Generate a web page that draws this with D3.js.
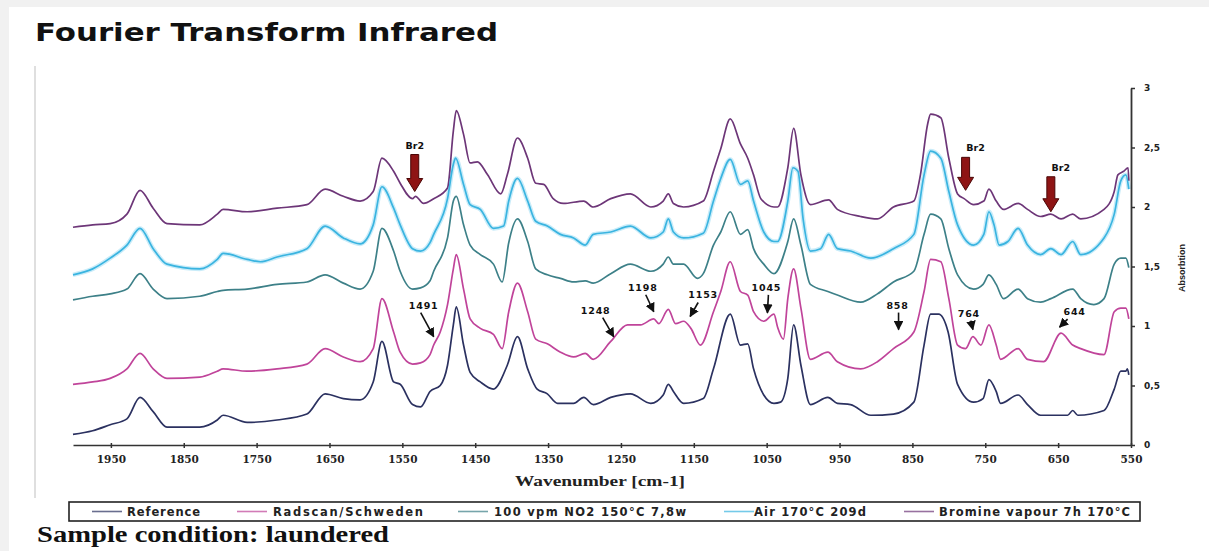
<!DOCTYPE html>
<html><head><meta charset="utf-8">
<script src="https://cdn.jsdelivr.net/npm/d3@7"></script>
<style>body{margin:0;background:#fff;overflow:hidden}</style>
</head><body>
<svg id="c" width="1209" height="551"></svg>
<script>
// ---------- data ----------
const wavenumberTicks = [1950,1850,1750,1650,1550,1450,1350,1250,1150,1050,950,850,750,650,550];
const absorbanceTicks = [0,0.5,1,1.5,2,2.5,3];
const seriesNames = ["Reference","Radscan/Schweden","100 vpm NO2 150°C 7,8w","Air 170°C 209d","Bromine vapour 7h 170°C"];

const reference = [[2002,0.09],[1975,0.12],[1951,0.17],[1928,0.22],[1910,0.40],[1892,0.28],[1873,0.15],[1828,0.15],[1804,0.21],[1796,0.25],[1763,0.19],[1722,0.21],[1681,0.26],[1656,0.43],[1631,0.39],[1608,0.38],[1590,0.53],[1578,0.87],[1562,0.53],[1553,0.51],[1536,0.34],[1525,0.32],[1512,0.45],[1498,0.50],[1488,0.67],[1480,1.01],[1476,1.16],[1466,0.84],[1457,0.61],[1443,0.53],[1425,0.47],[1406,0.67],[1392,0.91],[1378,0.64],[1365,0.47],[1351,0.43],[1337,0.35],[1315,0.35],[1301,0.40],[1288,0.34],[1264,0.40],[1237,0.43],[1209,0.35],[1192,0.42],[1185,0.51],[1178,0.45],[1164,0.35],[1137,0.39],[1123,0.64],[1100,1.10],[1086,0.84],[1076,0.85],[1068,0.64],[1054,0.42],[1040,0.35],[1031,0.36],[1021,0.56],[1013,1.01],[1003,0.67],[990,0.34],[966,0.40],[953,0.35],[935,0.34],[907,0.25],[876,0.26],[848,0.36],[834,0.84],[825,1.10],[814,1.10],[801,0.95],[788,0.51],[766,0.36],[753,0.39],[745,0.55],[735,0.45],[729,0.35],[705,0.42],[692,0.34],[674,0.25],[637,0.25],[630,0.29],[623,0.25],[587,0.29],[573,0.47],[564,0.62],[557,0.62],[555,0.64],[553,0.59]];

const radscan = [[2002,0.51],[1975,0.53],[1951,0.56],[1928,0.64],[1910,0.77],[1892,0.64],[1873,0.56],[1828,0.57],[1804,0.62],[1796,0.64],[1763,0.62],[1722,0.64],[1681,0.68],[1656,0.81],[1631,0.74],[1608,0.70],[1590,0.81],[1578,1.23],[1562,0.95],[1553,0.78],[1536,0.68],[1525,0.69],[1512,0.76],[1507,0.84],[1498,0.95],[1488,1.18],[1480,1.48],[1476,1.60],[1466,1.31],[1457,1.06],[1443,0.98],[1425,0.93],[1413,0.81],[1404,1.12],[1392,1.36],[1378,1.12],[1367,0.89],[1351,0.85],[1333,0.78],[1315,0.74],[1299,0.77],[1288,0.72],[1264,0.87],[1241,1.01],[1223,1.01],[1205,1.06],[1198,1.02],[1185,1.14],[1175,1.02],[1164,1.04],[1154,0.98],[1141,0.84],[1123,1.12],[1113,1.29],[1100,1.54],[1086,1.29],[1076,1.26],[1068,1.12],[1054,1.04],[1040,1.10],[1035,0.99],[1027,0.89],[1021,1.23],[1013,1.48],[1003,1.15],[990,0.72],[966,0.78],[953,0.70],[921,0.64],[898,0.70],[876,0.81],[848,0.95],[834,1.29],[825,1.56],[811,1.54],[800,1.23],[788,0.84],[777,0.81],[767,0.91],[756,0.84],[745,1.01],[735,0.84],[729,0.72],[705,0.81],[692,0.72],[670,0.70],[646,0.94],[630,0.84],[619,0.81],[587,0.76],[573,1.12],[564,1.15],[557,1.15],[553,1.06]];

const no2 = [[2002,1.22],[1975,1.25],[1951,1.27],[1928,1.31],[1910,1.44],[1892,1.31],[1873,1.23],[1828,1.25],[1804,1.29],[1796,1.30],[1763,1.31],[1722,1.35],[1681,1.37],[1656,1.43],[1631,1.36],[1608,1.31],[1590,1.46],[1578,1.82],[1562,1.63],[1553,1.46],[1536,1.31],[1525,1.32],[1512,1.38],[1507,1.46],[1488,1.74],[1480,2.05],[1476,2.09],[1466,1.85],[1457,1.68],[1443,1.60],[1425,1.52],[1413,1.37],[1404,1.70],[1392,1.90],[1378,1.71],[1367,1.48],[1351,1.43],[1333,1.40],[1315,1.37],[1299,1.38],[1288,1.36],[1264,1.44],[1237,1.52],[1209,1.46],[1192,1.52],[1185,1.58],[1178,1.52],[1164,1.52],[1145,1.40],[1137,1.44],[1123,1.68],[1113,1.79],[1100,1.96],[1086,1.77],[1076,1.81],[1068,1.65],[1054,1.52],[1040,1.44],[1021,1.71],[1013,1.90],[1003,1.68],[990,1.35],[966,1.29],[953,1.26],[921,1.20],[898,1.27],[876,1.37],[848,1.46],[834,1.77],[825,1.94],[811,1.90],[800,1.65],[788,1.43],[766,1.31],[753,1.35],[745,1.43],[735,1.35],[725,1.23],[705,1.31],[692,1.23],[674,1.20],[660,1.23],[630,1.31],[619,1.23],[601,1.18],[587,1.23],[573,1.52],[564,1.57],[557,1.57],[553,1.49]];

const air = [[2002,1.43],[1975,1.48],[1951,1.57],[1928,1.68],[1910,1.82],[1892,1.65],[1873,1.52],[1828,1.48],[1804,1.56],[1796,1.61],[1763,1.56],[1745,1.54],[1722,1.58],[1681,1.65],[1656,1.84],[1631,1.74],[1608,1.69],[1590,1.85],[1578,2.17],[1562,1.99],[1553,1.85],[1536,1.65],[1525,1.63],[1512,1.70],[1507,1.77],[1488,2.07],[1480,2.36],[1477,2.41],[1466,2.19],[1457,2.02],[1443,1.98],[1425,1.82],[1411,1.84],[1404,2.05],[1392,2.24],[1378,2.05],[1367,1.88],[1351,1.84],[1333,1.77],[1315,1.74],[1299,1.68],[1288,1.77],[1264,1.79],[1237,1.84],[1209,1.74],[1192,1.79],[1185,1.90],[1178,1.79],[1164,1.74],[1137,1.78],[1123,2.05],[1113,2.24],[1100,2.40],[1086,2.19],[1076,2.22],[1068,2.05],[1054,1.79],[1040,1.71],[1035,1.71],[1021,2.05],[1014,2.33],[1007,2.30],[1000,1.90],[990,1.63],[976,1.65],[965,1.77],[953,1.65],[935,1.63],[907,1.57],[876,1.65],[848,1.77],[834,2.27],[825,2.47],[811,2.41],[800,2.13],[788,1.85],[766,1.68],[752,1.77],[745,1.96],[738,1.85],[731,1.68],[719,1.71],[705,1.82],[692,1.68],[674,1.60],[660,1.65],[646,1.60],[630,1.71],[619,1.60],[587,1.74],[573,1.94],[564,2.22],[557,2.27],[553,2.15]];

const bromine = [[2002,1.83],[1975,1.85],[1951,1.86],[1928,1.94],[1910,2.14],[1892,1.99],[1873,1.86],[1828,1.85],[1804,1.94],[1796,1.98],[1763,1.96],[1722,1.99],[1681,2.02],[1656,2.15],[1631,2.09],[1608,2.05],[1590,2.13],[1578,2.41],[1562,2.30],[1553,2.20],[1536,2.07],[1532,2.09],[1521,2.03],[1507,2.07],[1488,2.16],[1480,2.64],[1476,2.81],[1466,2.61],[1457,2.37],[1447,2.38],[1433,2.27],[1415,2.11],[1406,2.27],[1392,2.58],[1378,2.41],[1367,2.20],[1356,2.19],[1343,2.07],[1329,2.03],[1301,2.05],[1288,2.00],[1264,2.07],[1237,2.11],[1209,2.00],[1192,2.05],[1185,2.11],[1178,2.03],[1164,2.00],[1137,2.05],[1123,2.30],[1113,2.49],[1100,2.74],[1086,2.53],[1076,2.41],[1068,2.27],[1058,2.07],[1040,2.00],[1035,2.00],[1021,2.33],[1013,2.66],[1003,2.27],[990,2.02],[965,2.06],[953,1.98],[921,1.92],[898,1.90],[876,2.00],[848,2.05],[839,2.27],[829,2.70],[825,2.78],[811,2.75],[800,2.41],[788,2.11],[779,2.07],[766,2.02],[752,2.05],[745,2.15],[735,2.05],[725,1.98],[705,2.03],[692,1.98],[674,1.92],[660,1.94],[646,1.90],[630,1.94],[619,1.90],[587,1.98],[573,2.13],[568,2.27],[560,2.30],[554,2.33],[553,2.22]];

const seriesColors = ["#2b3160","#c0449a","#3d8088","#3ab4e0","#6d3678"];

const br2Wn = [1533, 777, 660];
const br2Abs = [2.13, 2.14, 1.96];

const peakLabels = ["1491","1248","1198","1153","1045","858","764","644"];
const peakWn = [1507,1260,1205,1155,1049,869,767,648];
const peakAbs = [0.91,0.91,1.12,1.08,1.11,0.97,0.97,0.99];

// ---------- layout ----------
const svg = d3.select("#c");
const x = d3.scaleLinear().domain([2002,550]).range([73,1131]);
const y = d3.scaleLinear().domain([0,3]).range([445,88]);

svg.append("rect").attr("width",1209).attr("height",551).attr("fill","#f1f1f1");
svg.append("rect").attr("x",9).attr("y",7).attr("width",1200).attr("height",544).attr("fill","#ffffff");
svg.append("line").attr("x1",35).attr("x2",35).attr("y1",66).attr("y2",498).attr("stroke","#d4d4d4").attr("stroke-width",1.5);

svg.append("text").attr("x",35).attr("y",41).text("Fourier Transform Infrared")
  .attr("font-family","DejaVu Sans").attr("font-weight","bold").attr("font-size",24)
  .attr("textLength",463).attr("lengthAdjust","spacingAndGlyphs").attr("fill","#111");

// curves
const allSeries = [reference, radscan, no2, air, bromine];
const line = d3.line().x(d=>x(d[0])).y(d=>y(d[1])).curve(d3.curveMonotoneX);
// soft halo under the Air trace
svg.append("path").datum(air).attr("d",line).attr("fill","none")
  .attr("stroke","#c9ecf9").attr("stroke-width",4.5).attr("stroke-linejoin","round");
const drawOrder = [4,3,2,1,0];
drawOrder.forEach(i=>{
  svg.append("path").datum(allSeries[i]).attr("d",line)
    .attr("fill","none").attr("stroke",seriesColors[i]).attr("stroke-width",1.7)
    .attr("stroke-linejoin","round");
});

// x axis
const xAxis = svg.append("g").attr("transform","translate(0,445)")
  .call(d3.axisBottom(x).tickValues(wavenumberTicks).tickFormat(d3.format("d")).tickSize(3).tickSizeOuter(0).tickPadding(8));
xAxis.select(".domain").attr("stroke","#333").attr("stroke-width",1.6);
xAxis.selectAll(".tick line").attr("stroke","#333").attr("y1",-2).attr("stroke-width",1.5);
xAxis.selectAll("text").attr("font-family","DejaVu Serif").attr("font-weight","bold").attr("font-size",10.5).attr("fill","#222");

// y axis (right)
const yAxis = svg.append("g").attr("transform","translate(1131,0)")
  .call(d3.axisRight(y).tickValues(absorbanceTicks).tickFormat(d=>String(d).replace(".",",")).tickSize(4).tickSizeOuter(0).tickPadding(9));
yAxis.select(".domain").attr("stroke","#333").attr("stroke-width",1.8);
yAxis.selectAll(".tick line").attr("stroke","#333").attr("stroke-width",1.5);
yAxis.selectAll("text").attr("font-family","DejaVu Sans").attr("font-weight","bold").attr("font-size",9).attr("fill","#222");

svg.append("text").attr("transform","translate(1185,268) rotate(-90)").attr("text-anchor","middle")
  .text("Absorbtion").attr("font-family","Liberation Sans").attr("font-weight","bold")
  .attr("font-size",9).attr("fill","#222");

svg.append("text").attr("x",600).attr("y",486).attr("text-anchor","middle").text("Wavenumber [cm-1]")
  .attr("font-family","Liberation Serif").attr("font-weight","bold").attr("font-size",14)
  .attr("textLength",170).attr("lengthAdjust","spacingAndGlyphs").attr("fill","#222");

// Br2 red arrows
const br2Len = [37,33,35];
const br2LabelDx = [0,10,10];
br2Wn.forEach((wn,i)=>{
  const tx = x(wn), ty = y(br2Abs[i]), top = ty - br2Len[i];
  const p = `M${tx-4},${top}L${tx+4},${top}L${tx+4},${ty-13}L${tx+8},${ty-13}L${tx},${ty}L${tx-8},${ty-13}L${tx-4},${ty-13}Z`;
  svg.append("path").attr("d",p).attr("fill","#8e1414").attr("stroke","#4a0606").attr("stroke-width",1);
  svg.append("text").attr("x",tx+br2LabelDx[i]).attr("y",top-6).attr("text-anchor","middle").text("Br2")
    .attr("font-family","DejaVu Sans").attr("font-weight","bold").attr("font-size",9.5).attr("fill","#111");
});

// black peak arrows
svg.append("defs").append("marker").attr("id","ah").attr("viewBox","0 0 10 10").attr("refX",9).attr("refY",5)
  .attr("markerWidth",6).attr("markerHeight",6).attr("orient","auto")
  .append("path").attr("d","M0,0L10,5L0,10Z").attr("fill","#111");
const tailDx = [-13,-11,-8,8,1,0,-2,8];
const tailDy = [-24,-19,-17,-14,-18,-17,-9,-8];
const labelDx = [3,-7,-3,5,-2,-1,-2,7];
peakLabels.forEach((lab,i)=>{
  const tx = x(peakWn[i]), ty = y(peakAbs[i]);
  const sx = tx + tailDx[i], sy = ty + tailDy[i];
  svg.append("line").attr("x1",sx).attr("y1",sy).attr("x2",tx).attr("y2",ty)
    .attr("stroke","#111").attr("stroke-width",1.6).attr("marker-end","url(#ah)");
  svg.append("text").attr("x",sx+labelDx[i]).attr("y",sy-4).attr("text-anchor","middle").text(lab)
    .attr("font-family","DejaVu Sans").attr("font-weight","bold").attr("font-size",9.5)
    .attr("letter-spacing",0.8).attr("fill","#111");
});

// legend
svg.append("rect").attr("x",69).attr("y",502).attr("width",1071).attr("height",19)
  .attr("fill","#fff").attr("stroke","#222").attr("stroke-width",1.6);
const legSwatch = [92, 237, 458, 724, 904];
const legText = [127, 273, 494, 754, 939];
const legWidth = [73, 150, 192, 112, 191];
seriesNames.forEach((name,i)=>{
  svg.append("line").attr("x1",legSwatch[i]).attr("x2",legSwatch[i]+30).attr("y1",511.5).attr("y2",511.5)
    .attr("stroke",seriesColors[i]).attr("stroke-width",1.6).attr("opacity",0.7);
  svg.append("text").attr("x",legText[i]).attr("y",516).text(name)
    .attr("font-family","DejaVu Sans").attr("font-weight","bold").attr("font-size",11.5)
    .attr("textLength",legWidth[i]).attr("lengthAdjust","spacing").attr("fill","#222");
});

svg.append("text").attr("x",37).attr("y",542).text("Sample condition: laundered")
  .attr("font-family","Liberation Serif").attr("font-weight","bold").attr("font-size",23)
  .attr("textLength",352).attr("lengthAdjust","spacingAndGlyphs").attr("fill","#111");
</script>
</body></html>
